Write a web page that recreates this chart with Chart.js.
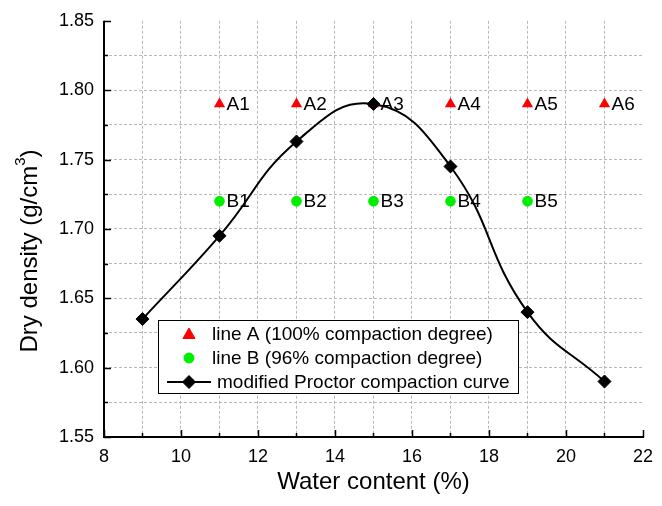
<!DOCTYPE html>
<html>
<head>
<meta charset="utf-8">
<script src="https://cdn.jsdelivr.net/npm/chart.js@4.4.0/dist/chart.umd.min.js"></script>
<style>
html, body { margin: 0; padding: 0; background: #fff; }
#wrap { width: 662px; height: 506px; }
</style>
</head>
<body>
<div id="wrap"><canvas id="proctorChart"></canvas></div>
<script>
// Line A: 100% compaction degree
var waterA = [11, 13, 15, 17, 19, 21];
var densityA = [1.79, 1.79, 1.79, 1.79, 1.79, 1.79];
var namesA = ['A1', 'A2', 'A3', 'A4', 'A5', 'A6'];

// Line B: 96% compaction degree
var waterB = [11, 13, 15, 17, 19];
var densityB = [1.72, 1.72, 1.72, 1.72, 1.72];
var namesB = ['B1', 'B2', 'B3', 'B4', 'B5'];

// Modified Proctor compaction curve
var waterCurve = [9, 11, 13, 15, 17, 19, 21];
var densityCurve = [1.635, 1.695, 1.763, 1.79, 1.745, 1.64, 1.59];

var xTickLabels = [8, 10, 12, 14, 16, 18, 20, 22];
var yTickLabels = [1.55, 1.60, 1.65, 1.70, 1.75, 1.80, 1.85];
var legendLabels = ['line A (100% compaction degree)', 'line B (96% compaction degree)', 'modified Proctor compaction curve'];

function toPoints(xs, ys) {
    return xs.map(function (x, i) { return { x: x, y: ys[i] }; });
}
function isMajor(list, v) {
    return list.some(function (t) { return Math.abs(t - v) < 1e-6; });
}

var FONT = '"Liberation Sans", Arial, sans-serif';
Chart.defaults.font.family = FONT;
Chart.defaults.color = '#000';

function drawMarker(ctx, style, x, y, r, color) {
    ctx.save();
    ctx.fillStyle = color;
    ctx.strokeStyle = color;
    ctx.lineWidth = 1;
    ctx.beginPath();
    if (style === 'triangle') {
        ctx.moveTo(x, y - r);
        ctx.lineTo(x + r * 0.866, y + r * 0.5);
        ctx.lineTo(x - r * 0.866, y + r * 0.5);
    } else if (style === 'rectRot') {
        ctx.moveTo(x - r, y);
        ctx.lineTo(x, y - r);
        ctx.lineTo(x + r, y);
        ctx.lineTo(x, y + r);
    } else {
        ctx.arc(x, y, r, 0, Math.PI * 2);
    }
    ctx.closePath();
    ctx.fill();
    ctx.stroke();
    ctx.restore();
}

var framePlugin = {
    id: 'frame',
    afterDatasetsDraw: function (chart) {
        var ctx = chart.ctx;
        ctx.save();
        ctx.font = '19px ' + FONT;
        ctx.fillStyle = '#000';
        ctx.textBaseline = 'middle';
        ctx.textAlign = 'left';
        [[0, namesA], [1, namesB]].forEach(function (pair) {
            var meta = chart.getDatasetMeta(pair[0]);
            meta.data.forEach(function (pt, i) {
                ctx.fillText(pair[1][i], pt.x + 7, pt.y + 1);
            });
        });
        ctx.restore();
    },
    afterDraw: function (chart) {
        var ctx = chart.ctx;
        var area = chart.chartArea;
        var xs = chart.scales.x, ys = chart.scales.y;
        ctx.save();
        // axis lines (left and bottom only)
        ctx.strokeStyle = '#000';
        ctx.lineWidth = 2;
        ctx.beginPath();
        ctx.moveTo(area.left, area.top);
        ctx.lineTo(area.left, area.bottom);
        ctx.lineTo(area.right + 1, area.bottom);
        ctx.stroke();

        // inward tick marks
        ctx.lineWidth = 1.5;
        xs.ticks.forEach(function (t) {
            var px = Math.round(xs.getPixelForValue(t.value)) + 0.5;
            var len = isMajor(xTickLabels, t.value) ? 7 : 4;
            ctx.beginPath();
            ctx.moveTo(px, area.bottom);
            ctx.lineTo(px, area.bottom - len);
            ctx.stroke();
        });
        ys.ticks.forEach(function (t) {
            var py = Math.round(ys.getPixelForValue(t.value)) + 0.5;
            var len = isMajor(yTickLabels, t.value) ? 7 : 4;
            ctx.beginPath();
            ctx.moveTo(area.left, py);
            ctx.lineTo(area.left + len, py);
            ctx.stroke();
        });

        // axis titles
        ctx.fillStyle = '#000';
        ctx.textBaseline = 'middle';
        ctx.textAlign = 'center';
        ctx.font = '24px ' + FONT;
        ctx.fillText('Water content (%)', (area.left + area.right) / 2, 482);

        ctx.translate(30, 251);
        ctx.rotate(-Math.PI / 2);
        var main = 'Dry density (g/cm';
        ctx.font = '24px ' + FONT;
        var w1 = ctx.measureText(main).width;
        var w3 = ctx.measureText(')').width;
        ctx.font = '15px ' + FONT;
        var w2 = ctx.measureText('3').width;
        var start = -(w1 + w2 + w3) / 2;
        ctx.textAlign = 'left';
        ctx.font = '24px ' + FONT;
        ctx.fillText(main, start, 0);
        ctx.font = '15px ' + FONT;
        ctx.fillText('3', start + w1, -9);
        ctx.font = '24px ' + FONT;
        ctx.fillText(')', start + w1 + w2, 0);
        ctx.restore();

        // legend box
        ctx.save();
        ctx.fillStyle = '#fff';
        ctx.fillRect(158, 320, 360, 74);
        ctx.strokeStyle = '#000';
        ctx.lineWidth = 1;
        ctx.strokeRect(158.5, 320.5, 360, 73);
        var rows = [334, 358, 382];
        drawMarker(ctx, 'triangle', 189, rows[0] + 1, 7, '#ff0000');
        drawMarker(ctx, 'circle', 189, rows[1], 5, '#00ee00');
        ctx.strokeStyle = '#000';
        ctx.lineWidth = 2;
        ctx.beginPath();
        ctx.moveTo(167, rows[2]);
        ctx.lineTo(211, rows[2]);
        ctx.stroke();
        drawMarker(ctx, 'rectRot', 189, rows[2], 6.5, '#000');
        ctx.fillStyle = '#000';
        ctx.font = '19px ' + FONT;
        ctx.textBaseline = 'middle';
        ctx.textAlign = 'left';
        ctx.fillText(legendLabels[0], 212, rows[0] + 1);
        ctx.fillText(legendLabels[1], 212, rows[1] + 1);
        ctx.fillText(legendLabels[2], 217, rows[2] + 1);
        ctx.restore();
    }
};

var gridColor = function (c) {
    return c.index === c.scale.ticks.length - 1 ? 'rgba(0,0,0,0)' : '#b8b8b8';
};

var ctxProctor = document.getElementById('proctorChart').getContext('2d');
var proctorChart = new Chart(ctxProctor, {
    type: 'scatter',
    data: {
        datasets: [{
            label: legendLabels[0],
            data: toPoints(waterA, densityA),
            pointStyle: 'triangle',
            pointRadius: 6.5,
            backgroundColor: '#ff0000',
            borderColor: '#ff0000',
            borderWidth: 0,
            order: 2
        }, {
            label: legendLabels[1],
            data: toPoints(waterB, densityB),
            pointStyle: 'circle',
            pointRadius: 5.3,
            backgroundColor: '#00ee00',
            borderColor: '#00ee00',
            borderWidth: 0,
            order: 1
        }, {
            label: legendLabels[2],
            data: toPoints(waterCurve, densityCurve),
            showLine: true,
            tension: 0.45,
            borderColor: '#000',
            borderWidth: 2,
            pointStyle: 'rectRot',
            pointRadius: 6.5,
            pointBackgroundColor: '#000',
            pointBorderColor: '#000',
            pointBorderWidth: 1,
            order: 0
        }]
    },
    options: {
        responsive: true,
        maintainAspectRatio: false,
        animation: false,
        events: [],
        layout: { padding: { top: 20, right: 11, left: 0, bottom: 0 } },
        plugins: {
            legend: { display: false },
            tooltip: { enabled: false }
        },
        scales: {
            x: {
                type: 'linear',
                min: 8,
                max: 22,
                afterFit: function (s) { s.height = 69; },
                ticks: {
                    stepSize: 1,
                    autoSkip: false,
                    maxRotation: 0,
                    padding: 9,
                    font: { size: 18 },
                    callback: function (v) { return isMajor(xTickLabels, v) ? String(v) : ''; }
                },
                grid: { color: gridColor, lineWidth: 1, drawTicks: false },
                border: { display: false, dash: [3, 2] }
            },
            y: {
                type: 'linear',
                min: 1.55,
                max: 1.85,
                afterFit: function (s) { s.width = 104; },
                ticks: {
                    stepSize: 0.025,
                    autoSkip: false,
                    padding: 10,
                    font: { size: 18 },
                    callback: function (v) { return isMajor(yTickLabels, v) ? v.toFixed(2) : ''; }
                },
                grid: { color: gridColor, lineWidth: 1, drawTicks: false },
                border: { display: false, dash: [3, 2] }
            }
        }
    },
    plugins: [framePlugin]
});
</script>
</body>
</html>
